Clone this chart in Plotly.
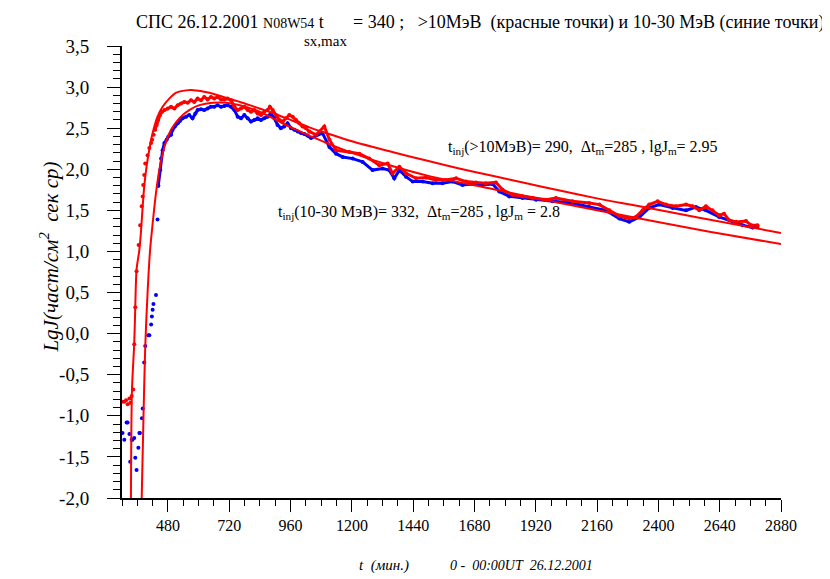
import plotly.graph_objects as go

# ---------------- data ----------------
red_t = [300, 309, 316, 322, 329, 333, 338, 344, 348, 352, 357, 365, 371, 377, 381, 383, 387, 391,
         400, 407, 414, 418, 424, 429, 436, 442, 449, 457, 466, 479, 492, 505, 518, 531, 544, 557,
         570, 583, 596, 609, 622, 635, 648, 661, 674, 688, 701, 713, 727, 740, 753, 766, 779, 792,
         805, 818, 831, 844, 857, 870, 879, 890, 903, 916, 929, 942, 955, 968, 981, 994, 1007, 1020,
         1033, 1060, 1092, 1112, 1138, 1190, 1229, 1268, 1307, 1340, 1359, 1386, 1412, 1451, 1490,
         1529, 1568, 1608, 1647, 1686, 1725, 1764, 1790, 1829, 1868, 1908, 1960, 1999, 2064, 2129,
         2169, 2208, 2247, 2286, 2312, 2338, 2364, 2397, 2430, 2469, 2508, 2534, 2560, 2586, 2612,
         2638, 2657, 2677, 2704, 2743, 2763, 2788]
red_lgj = [-0.83, -0.83, -0.81, -0.86, -0.79, -0.84, -0.76, -0.68, -0.13, 0.32, 0.76, 1.08, 1.32, 1.55,
           1.67, 1.81, 1.93, 2.07, 2.17, 2.26, 2.32, 2.36, 2.42, 2.48, 2.54, 2.60, 2.66, 2.70, 2.72,
           2.74, 2.76, 2.74, 2.78, 2.80, 2.82, 2.81, 2.84, 2.82, 2.86, 2.84, 2.88, 2.85, 2.88, 2.86,
           2.88, 2.85, 2.85, 2.86, 2.84, 2.76, 2.72, 2.74, 2.76, 2.72, 2.70, 2.72, 2.68, 2.66, 2.70,
           2.72, 2.76, 2.72, 2.66, 2.60, 2.58, 2.62, 2.66, 2.64, 2.60, 2.56, 2.52, 2.50, 2.46, 2.42,
           2.52, 2.36, 2.23, 2.21, 2.19, 2.13, 2.05, 2.07, 1.95, 2.03, 1.95, 1.89, 1.90, 1.87, 1.87,
           1.89, 1.85, 1.84, 1.83, 1.84, 1.75, 1.69, 1.67, 1.65, 1.63, 1.65, 1.61, 1.59, 1.57, 1.50,
           1.43, 1.40, 1.42, 1.50, 1.57, 1.61, 1.57, 1.55, 1.57, 1.55, 1.50, 1.55, 1.50, 1.44, 1.46,
           1.38, 1.36, 1.37, 1.32, 1.32]

blue_t = [302, 309, 318, 322, 329, 332, 338, 341, 348, 352, 357, 364, 368, 370, 378, 381, 387, 391,
          403, 407, 414, 417, 420, 423, 433, 439, 442, 450, 453, 459, 466, 475, 482, 492, 498, 507,
          518, 527, 537, 551, 563, 576, 587, 596, 609, 622, 635, 648, 661, 674, 688, 701, 713, 727,
          740, 753, 766, 779, 792, 805, 818, 831, 844, 857, 870, 883, 896, 909, 922, 935, 948, 962,
          975, 988, 1001, 1014, 1027, 1040, 1085, 1112, 1138, 1164, 1203, 1242, 1281, 1320, 1346,
          1366, 1386, 1412, 1438, 1477, 1516, 1555, 1594, 1633, 1673, 1712, 1751, 1777, 1816, 1868,
          1921, 1986, 2064, 2129, 2195, 2247, 2286, 2326, 2364, 2403, 2456, 2508, 2547, 2586, 2638,
          2691, 2730, 2769, 2788]
blue_lgj = [-1.21, -1.29, -1.08, -1.08, -1.22, -1.56, -1.29, -1.29, -1.27, -1.51, -1.66, -1.39, -1.21,
            -1.21, -1.03, -0.91, -0.35, -0.15, -0.02, -0.02, 0.11, 0.21, 0.29, 0.36, 0.47, 1.39, 1.80,
            1.99, 2.13, 2.23, 2.32, 2.36, 2.40, 2.42, 2.48, 2.52, 2.56, 2.59, 2.62, 2.64, 2.66, 2.62,
            2.68, 2.72, 2.73, 2.72, 2.74, 2.76, 2.76, 2.78, 2.76, 2.77, 2.78, 2.76, 2.72, 2.64, 2.62,
            2.66, 2.62, 2.58, 2.60, 2.62, 2.60, 2.62, 2.64, 2.68, 2.62, 2.54, 2.50, 2.52, 2.56, 2.50,
            2.48, 2.46, 2.44, 2.43, 2.41, 2.38, 2.44, 2.27, 2.19, 2.15, 2.13, 2.09, 1.99, 2.01, 1.99,
            1.89, 1.99, 1.91, 1.85, 1.85, 1.83, 1.83, 1.85, 1.81, 1.82, 1.81, 1.82, 1.73, 1.67, 1.65,
            1.63, 1.61, 1.59, 1.54, 1.50, 1.40, 1.36, 1.42, 1.53, 1.57, 1.53, 1.50, 1.54, 1.50, 1.42,
            1.36, 1.32, 1.29, 1.30]

# fitted curves (>10 MeV: upper, 10-30 MeV: lower)
fit_hi_t = [335, 339, 348, 352, 357, 368, 374, 381, 387, 396, 407, 420, 439, 459, 485, 511, 551, 590,
            642, 707, 772, 838, 903, 968, 1033, 1100, 1200, 1358, 1500, 1620, 1750, 1883, 2000, 2169,
            2326, 2560, 2880]
fit_hi_lgj = [-2.02, -0.69, -0.11, 0.33, 0.78, 1.02, 1.23, 1.55, 1.79, 2.03, 2.24, 2.44, 2.64, 2.76,
              2.86, 2.93, 2.96, 2.96, 2.93, 2.87, 2.81, 2.74, 2.67, 2.59, 2.51, 2.44, 2.34, 2.21, 2.10,
              2.01, 1.92, 1.83, 1.75, 1.64, 1.55, 1.41, 1.225]
fit_lo_t = [377, 385, 391, 400, 410, 420, 433, 446, 466, 492, 524, 563, 603, 655, 707, 772, 838, 903,
            968, 1033, 1100, 1200, 1358, 1500, 1750, 2000, 2326, 2600, 2880]
fit_lo_lgj = [-2.02, -0.89, -0.16, 0.49, 1.02, 1.34, 1.71, 1.99, 2.27, 2.48, 2.62, 2.72, 2.78, 2.81,
              2.81, 2.77, 2.70, 2.60, 2.50, 2.41, 2.32, 2.20, 2.04, 1.92, 1.76, 1.60, 1.40, 1.24, 1.09]

x_tickvals = [480, 720, 960, 1200, 1440, 1680, 1920, 2160, 2400, 2640, 2880]
x_ticktext = ["480", "720", "960", "1200", "1440", "1680", "1920", "2160", "2400", "2640", "2880"]
y_tickvals = [-2.0, -1.5, -1.0, -0.5, 0.0, 0.5, 1.0, 1.5, 2.0, 2.5, 3.0, 3.5]
y_ticktext = ["-2,0", "-1,5", "-1,0", "-0,5", "0,0", "0,5", "1,0", "1,5", "2,0", "2,5", "3,0", "3,5"]

RED = "#ff0000"
BLUE = "#0000ff"
FONT = "Liberation Serif"
PAD = "\u00a0\u00a0\u00a0"  # keeps the y tick labels away from the ticks, as in the original

red_split = sum(1 for t in red_t if t < 430)
blue_split = sum(1 for t in blue_t if t < 445)

fig = go.Figure()
# sparse early points
fig.add_trace(go.Scatter(x=blue_t[:blue_split], y=blue_lgj[:blue_split], mode="markers",
                         marker=dict(color=BLUE, size=4), showlegend=False))
fig.add_trace(go.Scatter(x=red_t[:red_split], y=red_lgj[:red_split], mode="markers",
                         marker=dict(color=RED, size=4), showlegend=False))
# dense part
fig.add_trace(go.Scatter(x=blue_t[blue_split - 1:], y=blue_lgj[blue_split - 1:], mode="lines+markers",
                         line=dict(color=BLUE, width=3), marker=dict(color=BLUE, size=4),
                         showlegend=False))
fig.add_trace(go.Scatter(x=red_t[red_split - 1:], y=red_lgj[red_split - 1:], mode="lines+markers",
                         line=dict(color=RED, width=3), marker=dict(color=RED, size=4),
                         showlegend=False))
# fit curves
fig.add_trace(go.Scatter(x=fit_hi_t, y=fit_hi_lgj, mode="lines",
                         line=dict(color=RED, width=2, shape="spline", smoothing=0.8), showlegend=False))
fig.add_trace(go.Scatter(x=fit_lo_t, y=fit_lo_lgj, mode="lines",
                         line=dict(color=RED, width=2, shape="spline", smoothing=0.8), showlegend=False))

fig.update_xaxes(range=[300, 2880], showline=True, linecolor="black", linewidth=1.5,
                 showgrid=False, zeroline=False, tickmode="array", tickvals=x_tickvals,
                 ticktext=x_ticktext, ticks="outside", ticklen=12, tickwidth=1.3, tickcolor="black",
                 tickfont=dict(family=FONT, size=16, color="black"),
                 minor=dict(tick0=300, dtick=60, ticks="outside", ticklen=6, tickwidth=1.3,
                            tickcolor="black", showgrid=False))
fig.update_yaxes(range=[-2, 3.5], showline=True, linecolor="black", linewidth=1.5,
                 showgrid=False, zeroline=False, tickmode="array", tickvals=y_tickvals,
                 ticktext=[t + PAD for t in y_ticktext], ticks="outside", ticklen=13, tickwidth=1.3,
                 tickcolor="black",
                 tickfont=dict(family=FONT, size=19, color="black"),
                 minor=dict(tick0=-2, dtick=0.1, ticks="outside", ticklen=7, tickwidth=1.3,
                            tickcolor="black", showgrid=False))

ann_font = dict(family=FONT, size=16, color="black")
annotations = [
    dict(xref="paper", yref="paper", x=0.0182, y=1.053, xanchor="left", yanchor="middle",
         text="СПС 26.12.2001 <span style='font-size:14px'>N08W54</span> t", showarrow=False,
         font=dict(family=FONT, size=18, color="black")),
    dict(xref="paper", yref="paper", x=0.345, y=1.011, xanchor="right", yanchor="middle",
         text="sx,max", showarrow=False, font=dict(family=FONT, size=15, color="black")),
    dict(xref="paper", yref="paper", x=1.068, y=1.053, xanchor="right", yanchor="middle",
         text="= 340 ;&nbsp;&nbsp; &gt;10МэВ&nbsp; (красные точки) и 10-30 МэВ (синие точки)",
         showarrow=False, font=dict(family=FONT, size=18, color="black")),
    dict(xref="x", yref="y", x=1570, y=2.26, xanchor="left", yanchor="middle",
         text="t<sub>inj</sub>(&gt;10МэВ)= 290,&nbsp; Δt<sub>m</sub>=285 , lgJ<sub>m</sub>= 2.95",
         showarrow=False, font=ann_font),
    dict(xref="x", yref="y", x=904, y=1.47, xanchor="left", yanchor="middle",
         text="t<sub>inj</sub>(10-30 МэВ)= 332,&nbsp; Δt<sub>m</sub>=285 , lgJ<sub>m</sub> = 2.8",
         showarrow=False, font=ann_font),
    dict(xref="paper", yref="paper", x=-0.11, y=0.533, xanchor="center", yanchor="middle",
         textangle=-90, text="<i>LgJ(част/см<sup>2</sup>&nbsp; сек ср)</i>", showarrow=False,
         font=dict(family=FONT, size=21, color="black")),
    dict(xref="paper", yref="paper", x=0.397, y=-0.1504, xanchor="center", yanchor="middle",
         text="<i>t&nbsp; (мин.)</i>", showarrow=False, font=dict(family=FONT, size=15, color="black")),
    dict(xref="paper", yref="paper", x=0.6055, y=-0.1504, xanchor="center", yanchor="middle",
         text="<i>0 -&nbsp; 00:00UT&nbsp; 26.12.2001</i>", showarrow=False,
         font=dict(family=FONT, size=14, color="black")),
]

# the page adds an 8 px body margin, so the figure is 8 px smaller than the window
fig.update_layout(width=822, height=571, autosize=False,
                  margin=dict(l=114, r=49, t=38, b=81, pad=0),
                  paper_bgcolor="white", plot_bgcolor="white",
                  font=dict(family=FONT, color="black"),
                  showlegend=False, annotations=annotations)

fig.write_html("out.html")
